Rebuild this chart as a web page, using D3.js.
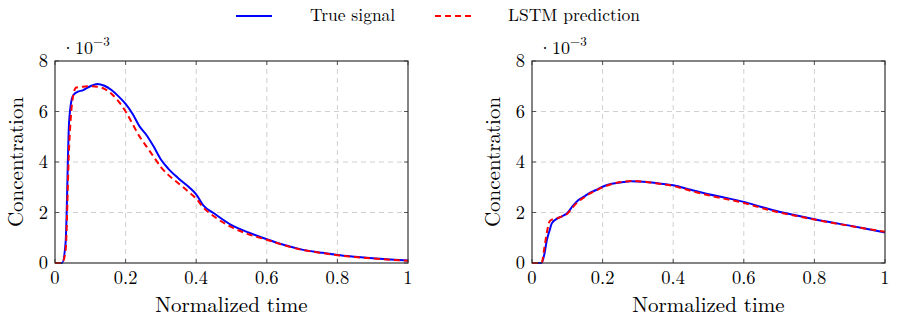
<!DOCTYPE html>
<html>
<head>
<meta charset="utf-8">
<script src="https://cdn.jsdelivr.net/npm/d3@7"></script>
<style>
  body { margin: 0; background: #fff; }
  text { font-family: "Latin Modern Roman", "CMU Serif", "Liberation Serif", "DejaVu Serif", serif; fill: #000; }
</style>
</head>
<body>
<svg id="chart" width="897" height="321"></svg>
<script>
// values in units of 1e-3
var tA = [0, 0.02, 0.03, 0.04, 0.05, 0.06, 0.08, 0.10, 0.12, 0.14, 0.16, 0.18, 0.20, 0.22, 0.24, 0.26, 0.28, 0.30, 0.32, 0.35, 0.38, 0.40, 0.42, 0.45, 0.50, 0.55, 0.60, 0.65, 0.70, 0.75, 0.80, 0.85, 0.90, 0.95, 1.00];
var trueA = [0, 0, 0.8, 5.6, 6.6, 6.75, 6.85, 7.0, 7.09, 7.02, 6.85, 6.6, 6.3, 5.9, 5.4, 5.05, 4.6, 4.1, 3.75, 3.35, 3.0, 2.72, 2.28, 1.97, 1.5, 1.2, 0.94, 0.71, 0.53, 0.42, 0.32, 0.25, 0.19, 0.14, 0.1];
var predA = [0, 0, 0.5, 4.6, 6.5, 6.95, 6.98, 7.0, 6.98, 6.9, 6.7, 6.4, 6.0, 5.5, 5.0, 4.6, 4.2, 3.8, 3.5, 3.15, 2.8, 2.55, 2.2, 1.85, 1.42, 1.13, 0.92, 0.7, 0.52, 0.41, 0.31, 0.24, 0.18, 0.13, 0.09];

var tB = [0, 0.027, 0.035, 0.042, 0.05, 0.056, 0.07, 0.085, 0.10, 0.115, 0.13, 0.15, 0.165, 0.18, 0.20, 0.22, 0.24, 0.26, 0.28, 0.30, 0.33, 0.36, 0.40, 0.45, 0.50, 0.55, 0.60, 0.65, 0.70, 0.75, 0.80, 0.85, 0.90, 0.95, 1.00];
var trueB = [0, 0, 0.35, 0.9, 1.3, 1.57, 1.75, 1.85, 1.98, 2.25, 2.48, 2.65, 2.79, 2.88, 3.02, 3.12, 3.17, 3.21, 3.24, 3.23, 3.2, 3.15, 3.08, 2.9, 2.72, 2.58, 2.42, 2.22, 2.03, 1.88, 1.73, 1.6, 1.48, 1.35, 1.21];
var predB = [0, 0, 0.6, 1.2, 1.65, 1.72, 1.76, 1.85, 1.95, 2.2, 2.42, 2.62, 2.76, 2.86, 3.0, 3.1, 3.18, 3.22, 3.25, 3.24, 3.2, 3.14, 3.05, 2.86, 2.68, 2.53, 2.38, 2.18, 2.0, 1.86, 1.72, 1.59, 1.47, 1.35, 1.24];

var xTicks = [0, 0.2, 0.4, 0.6, 0.8, 1];
var yTicks = [0, 2, 4, 6, 8];
var legendLabels = ["True signal", "LSTM prediction"];

var svg = d3.select("#chart");

function panel(left, tData, yTrue, yPred) {
    var x = d3.scaleLinear().domain([0, 1]).range([left, left + 353]);
    var y = d3.scaleLinear().domain([0, 8]).range([263, 61]);
    var g = svg.append("g");

    // grid
    g.selectAll(".gx").data(xTicks.slice(1, -1)).enter().append("line")
        .attr("x1", function(d) { return x(d); }).attr("x2", function(d) { return x(d); })
        .attr("y1", y(0)).attr("y2", y(8))
        .attr("stroke", "#d0d0d0").attr("stroke-width", 1).attr("stroke-dasharray", "5,4");
    g.selectAll(".gy").data(yTicks.slice(1, -1)).enter().append("line")
        .attr("x1", x(0)).attr("x2", x(1))
        .attr("y1", function(d) { return y(d); }).attr("y2", function(d) { return y(d); })
        .attr("stroke", "#d0d0d0").attr("stroke-width", 1).attr("stroke-dasharray", "5,4");

    // tick marks inside, all four sides
    xTicks.forEach(function(d) {
        g.append("line").attr("x1", x(d)).attr("x2", x(d)).attr("y1", y(0)).attr("y2", y(0) - 4).attr("stroke", "#555");
        g.append("line").attr("x1", x(d)).attr("x2", x(d)).attr("y1", y(8)).attr("y2", y(8) + 4).attr("stroke", "#555");
    });
    yTicks.forEach(function(d) {
        g.append("line").attr("x1", x(0)).attr("x2", x(0) + 4).attr("y1", y(d)).attr("y2", y(d)).attr("stroke", "#555");
        g.append("line").attr("x1", x(1)).attr("x2", x(1) - 4).attr("y1", y(d)).attr("y2", y(d)).attr("stroke", "#555");
    });

    var line = d3.line()
        .x(function(d, i) { return x(tData[i]); })
        .y(function(d) { return y(d); })
        .curve(d3.curveMonotoneX);

    g.append("path").datum(yTrue).attr("d", line)
        .attr("fill", "none").attr("stroke", "#0000ff").attr("stroke-width", 2);
    g.append("path").datum(yPred).attr("d", line)
        .attr("fill", "none").attr("stroke", "#ff0000").attr("stroke-width", 2).attr("stroke-dasharray", "6,4");

    // frame
    g.append("rect").attr("x", x(0)).attr("y", y(8)).attr("width", x(1) - x(0)).attr("height", y(0) - y(8))
        .attr("fill", "none").attr("stroke", "#333").attr("stroke-width", 1.2);

    // tick labels
    g.selectAll(".xl").data(xTicks).enter().append("text")
        .attr("x", function(d) { return x(d); }).attr("y", 284)
        .attr("text-anchor", "middle").attr("font-size", 18.5)
        .text(function(d) { return d; });
    g.selectAll(".yl").data(yTicks).enter().append("text")
        .attr("x", x(0) - 7).attr("y", function(d) { return y(d) + 6; })
        .attr("text-anchor", "end").attr("font-size", 18.5)
        .text(function(d) { return d; });

    // scale factor
    var sf = g.append("text").attr("x", x(0) + 6).attr("y", 54).attr("font-size", 18);
    sf.append("tspan").text("\u00b710");
    sf.append("tspan").attr("font-size", 13).attr("dy", -8).text("\u22123");

    // axis labels
    g.append("text").attr("x", (x(0) + x(1)) / 2).attr("y", 312)
        .attr("text-anchor", "middle").attr("font-size", 21).text("Normalized time");
    g.append("text").attr("transform", "translate(" + (left - 32) + ",162) rotate(-90)")
        .attr("text-anchor", "middle").attr("font-size", 21).text("Concentration");
}

panel(55, tA, trueA, predA);
panel(532, tB, trueB, predB);

// legend
var leg = svg.append("g");
leg.append("line").attr("x1", 236).attr("x2", 272).attr("y1", 16).attr("y2", 16)
    .attr("stroke", "#0000ff").attr("stroke-width", 2);
leg.append("text").attr("x", 310).attr("y", 21).attr("font-size", 17.5).text(legendLabels[0]);
leg.append("line").attr("x1", 435).attr("x2", 472).attr("y1", 16).attr("y2", 16)
    .attr("stroke", "#ff0000").attr("stroke-width", 2).attr("stroke-dasharray", "6,4");
leg.append("text").attr("x", 508).attr("y", 21).attr("font-size", 17.5).text(legendLabels[1]);
</script>
</body>
</html>
